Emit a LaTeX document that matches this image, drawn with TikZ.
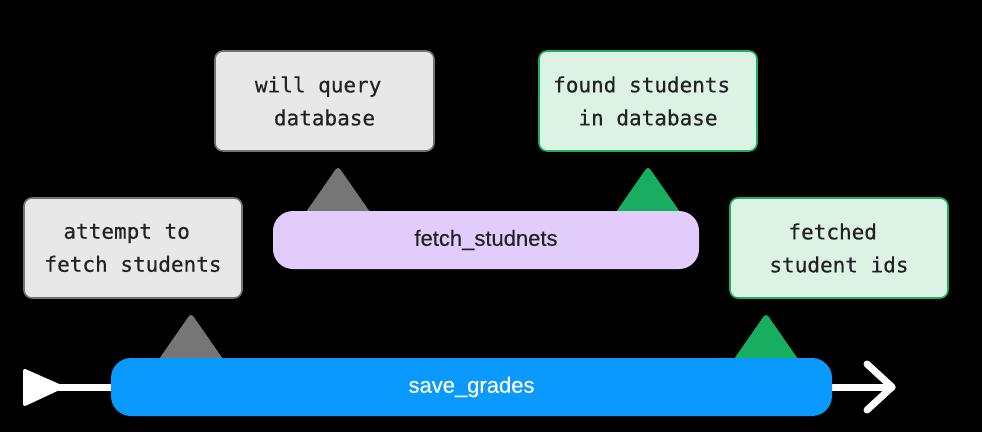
\documentclass[tikz,border=0pt]{standalone}
\usepackage{fontspec}
\setmonofont[FakeBold=0.4]{DejaVu Sans Mono}
\setsansfont[FakeBold=0.3]{Liberation Sans}
\definecolor{bg}{HTML}{000000}
\definecolor{graybox}{HTML}{E8E8E8}
\definecolor{grayline}{HTML}{727272}
\definecolor{graytri}{HTML}{767676}
\definecolor{greenbox}{HTML}{DBF2E5}
\definecolor{greenline}{HTML}{1DAF5F}
\definecolor{greentri}{HTML}{17AF5F}
\definecolor{bluebar}{HTML}{0A99FF}
\definecolor{purplebar}{HTML}{E2CCFC}
\definecolor{txt}{HTML}{222222}
\tikzset{
  note/.style={rectangle, rounded corners=8pt, line width=1.6pt, minimum width=218pt, minimum height=100pt, align=center, text=txt, font=\ttfamily\fontsize{21}{33}\selectfont},
  graynote/.style={note, fill=graybox, draw=grayline},
  greennote/.style={note, fill=greenbox, draw=greenline},
  spanbar/.style={rectangle, rounded corners=20pt, minimum height=58pt, font=\sffamily\fontsize{22}{26}\selectfont},
  marker/.style={rounded corners=4pt},
  timeline/.style={white, line width=7pt, line cap=round, line join=round}
}
\begin{document}
\begin{tikzpicture}[x=1pt,y=-1pt]
\useasboundingbox (0,0) rectangle (982,432);
\fill[bg] (0,0) rectangle (982,432);

% timeline
\coordinate (tstart) at (55,387);
\coordinate (tend) at (892,387);
\draw[timeline] (tstart) -- (tend);
\draw[timeline] (867,364) -- (tend) -- (867,410);
\fill[white, rounded corners=3pt] (23,368) -- (66,387) -- (23,407) -- cycle;

% markers on save_grades
\fill[graytri, marker] (150,372) -- (191,313) -- (232,372) -- cycle;
\fill[greentri, marker] (725,372) -- (766,313) -- (807,372) -- cycle;
% markers on fetch_studnets
\fill[graytri, marker] (297,225) -- (338,166) -- (379,225) -- cycle;
\fill[greentri, marker] (607,225) -- (648,166) -- (689,225) -- cycle;

% bars
\node[spanbar, fill=bluebar, text=white, minimum width=721pt] (save) at (471.5,387) {save\_grades};
\node[spanbar, fill=purplebar, text=txt, minimum width=426pt] (fetch) at (486,240) {fetch\_studnets};

% notes
\node[graynote] (attempt) at (133,248) {attempt to\hphantom{x}\\fetch students};
\node[greennote] (fetched) at (839,248) {fetched\hphantom{x}\\student ids};
\node[graynote, minimum width=219pt] (query) at (324.5,101) {will query\hphantom{x}\\database};
\node[greennote] (found) at (648,101) {found students\hphantom{x}\\in database};
\end{tikzpicture}
\end{document}
